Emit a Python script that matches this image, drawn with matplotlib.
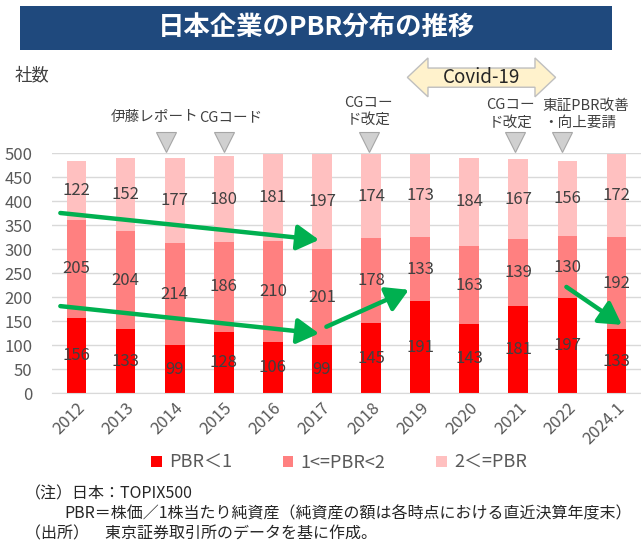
import matplotlib
matplotlib.use("Agg")
import matplotlib.pyplot as plt
from matplotlib.patches import Rectangle, Polygon, FancyArrowPatch, Patch
import numpy as np

plt.rcParams['font.family'] = ['Noto Sans CJK JP', 'DejaVu Sans']

# data
years = ["2012", "2013", "2014", "2015", "2016", "2017", "2018", "2019",
         "2020", "2021", "2022", "2024.1"]
pbr_lt1 = [156, 133, 99, 128, 106, 99, 145, 191, 143, 181, 197, 133]
pbr_1to2 = [205, 204, 214, 186, 210, 201, 178, 133, 163, 139, 130, 192]
pbr_ge2 = [122, 152, 177, 180, 181, 197, 174, 173, 184, 167, 156, 172]
series_names = ["PBR＜1", "1<=PBR<2", "2＜=PBR"]
colors = ["#ff0000", "#ff8080", "#ffc0c0"]

events = [(1.83, "伊藤レポート"), (3.0, "CGコード"), (5.95, "CGコー\nド改定"),
          (8.93, "CGコー\nド改定"), (9.9, "東証PBR改善\n・向上要請")]

W, H = 641, 548
fig = plt.figure(figsize=(W / 100, H / 100), dpi=100)
ax = fig.add_axes([52 / W, 1 - 393 / H, 589 / W, 240 / H])

x = np.arange(len(years))
bottom = np.zeros(len(years))
for vals, col, name in zip([pbr_lt1, pbr_1to2, pbr_ge2], colors, series_names):
    vals = np.array(vals)
    ax.bar(x, vals, width=0.4, bottom=bottom, color=col, label=name, zorder=2)
    for xi, b, v in zip(x, bottom, vals):
        ax.text(xi, b + v / 2, str(v), ha="center", va="center",
                fontsize=12, color="#404040", zorder=4)
    bottom += vals

ax.set_xlim(-0.5, len(years) - 0.5)
ax.set_ylim(0, 500)
ax.set_yticks(range(0, 501, 50))
ax.grid(axis="y", color="#d9d9d9", lw=1, zorder=0)
for s in ["top", "right", "left"]:
    ax.spines[s].set_visible(False)
ax.spines["bottom"].set_color("#d9d9d9")
ax.tick_params(length=0, colors="#595959", labelsize=12)
ax.tick_params(axis="y", pad=14)
ax.tick_params(axis="x", pad=5)
ax.set_xticks(x)
ax.set_xticklabels(years, rotation=45, ha="right", rotation_mode="anchor")

# green trend arrows (data coords)
arrows = [((-0.33, 375), (4.94, 319)), ((-0.33, 181), (4.94, 124)),
          ((5.09, 138), (6.77, 215)), ((9.98, 221), (11.11, 142))]
for (x0, y0), (x1, y1) in arrows:
    ax.add_patch(FancyArrowPatch((x0, y0), (x1, y1),
                                 arrowstyle="-|>,head_length=0.95,head_width=0.55",
                                 mutation_scale=14, lw=3.2, color="#00b050",
                                 shrinkA=0, shrinkB=0, zorder=5))

# event markers
for ex, label in events:
    ax.plot(ex, 522, marker="v", ms=14, mfc="#d0d0d0", mec="#a6a6a6",
            mew=0.8, clip_on=False)
ax.text(1.6, 575, events[0][1], ha="center", va="center", fontsize=10.5, color="#404040")
ax.text(3.15, 575, events[1][1], ha="center", va="center", fontsize=10.5, color="#404040")
ax.text(5.95, 587, events[2][1], ha="center", va="center", fontsize=10.5,
        color="#404040", linespacing=1.3)
ax.text(8.84, 581, events[3][1], ha="center", va="center", fontsize=10.5,
        color="#404040", linespacing=1.3)
ax.text(9.5, 581, events[4][1], ha="left", va="center", fontsize=10.5,
        color="#404040", linespacing=1.3)

# covid double arrow
xl, xr, hl = 6.74, 9.76, 0.42
yt, yb, bt, bb = 698, 617, 677, 637
ym = (yt + yb) / 2
pts = [(xl, ym), (xl + hl, yt), (xl + hl, bt), (xr - hl, bt), (xr - hl, yt),
       (xr, ym), (xr - hl, yb), (xr - hl, bb), (xl + hl, bb), (xl + hl, yb)]
ax.add_patch(Polygon(pts, closed=True, fc="#fff2cc", ec="#bfbfbf", lw=1,
                     clip_on=False))
ax.text((xl + xr) / 2, ym, "Covid-19", ha="center", va="center",
        fontsize=13.5, color="#262626")

# title banner
fig.patches.append(Rectangle((20 / W, 1 - 50 / H), 592 / W, 44 / H,
                             transform=fig.transFigure, fc="#1f497d", ec="none"))
fig.text(316 / W, 1 - 28 / H, "日本企業のPBR分布の推移", ha="center", va="center",
         fontsize=19, fontweight="bold", color="white")
fig.text(15 / W, 1 - 75 / H, "社数", ha="left", va="center", fontsize=12.5,
         color="#404040")

handles = [Patch(fc=c, ec="none") for c in colors]
fig.legend(handles, series_names, loc="center", bbox_to_anchor=(339 / W, 1 - 463 / H),
           ncol=3, frameon=False, fontsize=13, handlelength=0.6, handleheight=0.6,
           handletextpad=0.4, columnspacing=2.8, labelcolor="#595959")

notes = [(25, 494, "（注）日本：TOPIX500"),
         (64, 514, "PBR＝株価／1株当たり純資産（純資産の額は各時点における直近決算年度末）"),
         (25, 534, "（出所）　東京証券取引所のデータを基に作成。")]
for nx, ny, t in notes:
    fig.text(nx / W, 1 - ny / H, t, ha="left", va="center", fontsize=11.5,
             color="#262626")

fig.savefig("out.png", dpi=100)
